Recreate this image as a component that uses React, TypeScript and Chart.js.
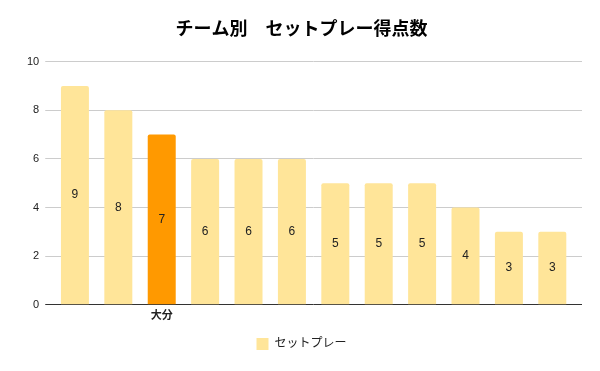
import React, { useEffect, useRef } from "react";
import { Chart, registerables } from "chart.js";

Chart.register(...registerables);

const title = "チーム別　セットプレー得点数";
const seriesName = "セットプレー";
const categories = ["", "", "大分", "", "", "", "", "", "", "", "", ""];
const values = [9, 8, 7, 6, 6, 6, 5, 5, 5, 4, 3, 3];
const highlightIndex = 2;
const yTicks = [0, 2, 4, 6, 8, 10];

const FONT = "'Liberation Sans', Arial, 'Noto Sans CJK JP', sans-serif";
const LIGHT = "#FFE599";
const ORANGE = "#FF9900";

const valueLabels = {
  id: "valueLabels",
  afterDatasetsDraw(chart: any) {
    const ctx = chart.ctx;
    const meta = chart.getDatasetMeta(0);
    ctx.save();
    ctx.font = `12px ${FONT}`;
    ctx.fillStyle = "#222";
    ctx.textAlign = "center";
    ctx.textBaseline = "middle";
    meta.data.forEach((el: any, i: number) => {
      const y = (el.y + el.base) / 2;
      ctx.fillText(String(values[i]), el.x, y);
    });
    ctx.restore();
  },
};

export default function App() {
  const ref = useRef<HTMLCanvasElement>(null);
  useEffect(() => {
    document.body.style.margin = "0";
    const gridColor = (c: any) => (c.tick && c.tick.value === 0 ? "#333333" : "#cccccc");
    const chart = new Chart(ref.current!, {
      type: "bar",
      data: {
        labels: categories,
        datasets: [
          {
            label: seriesName,
            data: values,
            backgroundColor: values.map((_, i) => (i === highlightIndex ? ORANGE : LIGHT)),
            borderWidth: 0,
            borderRadius: 2,
            categoryPercentage: 1,
            barPercentage: 0.645,
          },
        ],
      },
      options: {
        animation: false,
        responsive: true,
        maintainAspectRatio: false,
        layout: { padding: { left: 21, right: 18, top: 0, bottom: 11 } },
        plugins: {
          title: {
            display: true,
            text: title,
            color: "#000",
            font: { family: FONT, size: 18, weight: "bold" },
            padding: { top: 19, bottom: 21 },
          },
          legend: {
            position: "bottom",
            labels: {
              boxWidth: 12,
              boxHeight: 12,
              color: "#222",
              font: { family: FONT, size: 12 },
              padding: 10,
              generateLabels: () => [
                {
                  text: seriesName,
                  fillStyle: LIGHT,
                  strokeStyle: LIGHT,
                  lineWidth: 0,
                  fontColor: "#222",
                  datasetIndex: 0,
                } as any,
              ],
            },
          },
          tooltip: { enabled: false },
        },
        scales: {
          x: {
            grid: { display: false, drawTicks: false },
            border: { display: false },
            ticks: {
              autoSkip: false,
              maxRotation: 0,
              padding: 5,
              color: "#222",
              font: { family: FONT, size: 11, weight: "bold" },
            },
          },
          y: {
            min: 0,
            max: 10,
            afterBuildTicks: (s: any) => {
              s.ticks = yTicks.map((v) => ({ value: v }));
            },
            grid: { color: gridColor, tickLength: 8, lineWidth: 1 },
            border: { display: false },
            ticks: {
              padding: 6,
              color: "#222",
              font: { family: FONT, size: 11 },
            },
          },
          y2: {
            position: "right",
            min: 0,
            max: 10,
            afterBuildTicks: (s: any) => {
              s.ticks = yTicks.map((v) => ({ value: v }));
            },
            grid: { color: gridColor, tickLength: 8, drawOnChartArea: false },
            border: { display: false },
            ticks: { display: false },
          },
        },
      },
      plugins: [valueLabels],
    });
    return () => chart.destroy();
  }, []);
  return (
    <div style={{ width: 600, height: 371, position: "relative" }}>
      <canvas ref={ref} />
    </div>
  );
}
